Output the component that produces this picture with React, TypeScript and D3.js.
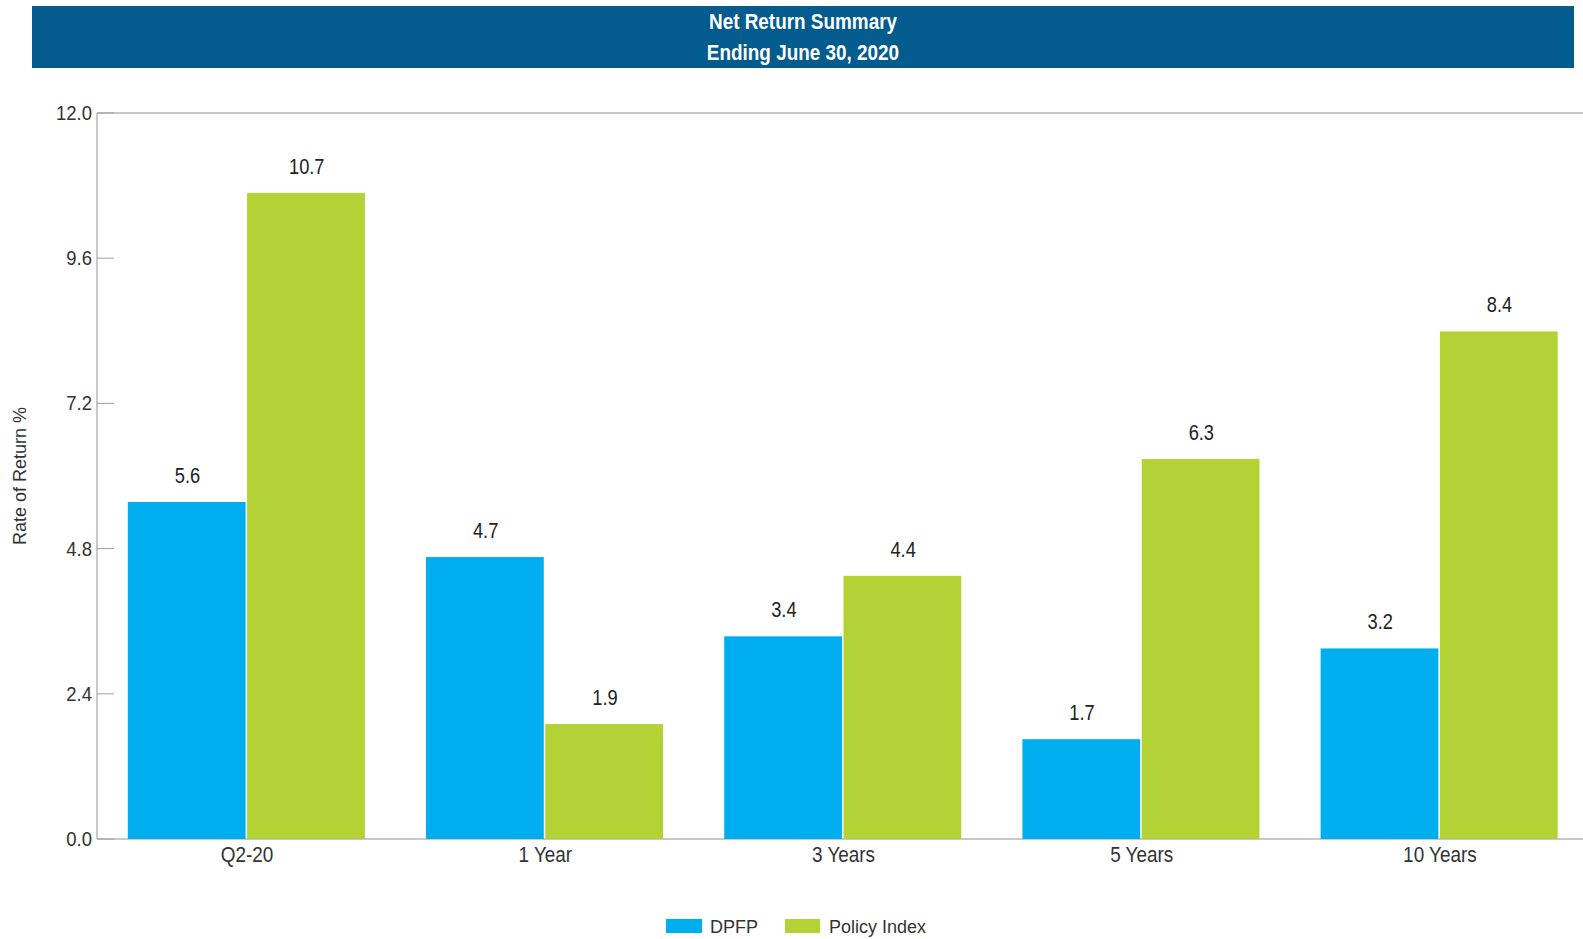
import React from "react";
import * as d3 from "d3";

const categories = ["Q2-20", "1 Year", "3 Years", "5 Years", "10 Years"];
const seriesNames = ["DPFP", "Policy Index"];
// bar heights
const dpfp = [5.57, 4.66, 3.35, 1.65, 3.15];
const policyIndex = [10.68, 1.9, 4.35, 6.28, 8.39];
// printed data labels
const dpfpLabels = ["5.6", "4.7", "3.4", "1.7", "3.2"];
const policyLabels = ["10.7", "1.9", "4.4", "6.3", "8.4"];
const yTicks = [0, 2.4, 4.8, 7.2, 9.6, 12.0];
const colors = ["#00AEEF", "#B2D235"];

const W = 1583;
const H = 939;
const M = { left: 97, right: 1583, top: 113, bottom: 839 };
const sans = "'Liberation Sans', Arial, sans-serif";

function NText(props: {
  x: number;
  y: number;
  sx: number;
  size: number;
  anchor?: string;
  weight?: string;
  fill?: string;
  children: React.ReactNode;
}) {
  return (
    <text
      transform={`translate(${props.x},${props.y}) scale(${props.sx},1)`}
      textAnchor={props.anchor || "middle"}
      fontFamily={sans}
      fontSize={props.size}
      fontWeight={props.weight || "normal"}
      fill={props.fill || "#333"}
    >
      {props.children}
    </text>
  );
}

export default function App() {
  const x0 = d3.scaleBand<string>().domain(categories).range([98, 1589]).paddingInner(0.2).paddingOuter(0.1);
  const x1 = d3.scaleBand<string>().domain(seriesNames).range([0, x0.bandwidth()]).padding(0);
  const y = d3.scaleLinear().domain([0, 12]).range([M.bottom, M.top]);
  const series = [dpfp, policyIndex];
  const labels = [dpfpLabels, policyLabels];

  return (
    <svg width={W} height={H} style={{ position: "absolute", left: 0, top: 0, background: "#fff" }}>
      <rect x={32} y={6} width={1542} height={62} fill="#035B8E" />
      <NText x={803} y={29} sx={0.86} size={22} weight="bold" fill="#fff">Net Return Summary</NText>
      <NText x={803} y={60} sx={0.86} size={22} weight="bold" fill="#fff">Ending June 30, 2020</NText>

      {/* frame */}
      <line x1={M.left} x2={M.right} y1={M.top} y2={M.top} stroke="#c8c8c8" strokeWidth={2} />
      <line x1={M.left} x2={M.left} y1={M.top} y2={M.bottom} stroke="#c8c8c8" strokeWidth={2} />
      <line x1={M.left} x2={M.right} y1={M.bottom} y2={M.bottom} stroke="#c8c8c8" strokeWidth={2} />

      {yTicks.map((t) => (
        <g key={t}>
          <line x1={M.left} x2={M.left + 17} y1={y(t)} y2={y(t)} stroke="#a0a0a0" strokeWidth={1} />
          <NText x={M.left - 5} y={y(t) + 7} sx={0.88} size={21} anchor="end">
            {t.toFixed(1)}
          </NText>
        </g>
      ))}

      <text
        transform={`translate(26, ${(M.top + M.bottom) / 2}) rotate(-90)`}
        textAnchor="middle"
        fontFamily={sans}
        fontSize={18}
        fill="#333"
      >
        Rate of Return %
      </text>

      {categories.map((c, i) => (
        <g key={c}>
          {series.map((s, j) => {
            const bx = (x0(c) as number) + (x1(seriesNames[j]) as number);
            const bw = x1.bandwidth();
            return (
              <g key={j}>
                <rect x={bx} y={y(s[i])} width={bw - 1.5} height={y(0) - y(s[i])} fill={colors[j]} />
                <NText x={bx + bw / 2} y={y(s[i]) - 19} sx={0.83} size={22} fill="#222">
                  {labels[j][i]}
                </NText>
              </g>
            );
          })}
          <NText x={(x0(c) as number) + x0.bandwidth() / 2} y={862} sx={0.86} size={22}>
            {c}
          </NText>
        </g>
      ))}

      {/* legend */}
      <rect x={666} y={919} width={36} height={14} fill={colors[0]} />
      <text x={710} y={933} fontFamily={sans} fontSize={18} fill="#333">{seriesNames[0]}</text>
      <rect x={785} y={919} width={35} height={14} fill={colors[1]} />
      <text x={829} y={933} fontFamily={sans} fontSize={18} fill="#333">{seriesNames[1]}</text>
    </svg>
  );
}
